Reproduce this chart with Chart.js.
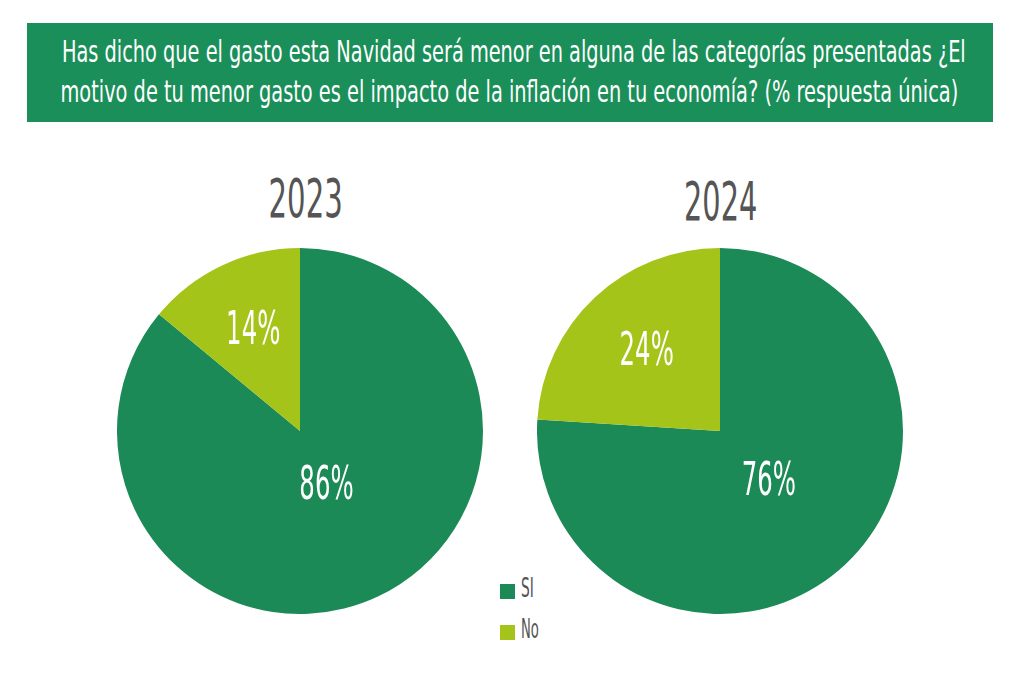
<!DOCTYPE html>
<html>
<head>
<meta charset="utf-8">
<script src="https://cdn.jsdelivr.net/npm/chart.js@4.4.0/dist/chart.umd.min.js"></script>
<style>
  body { margin: 0; background: #fff; width: 1024px; height: 682px; position: relative; overflow: hidden; font-family: "DejaVu Sans Condensed", sans-serif; }
  #banner { position: absolute; left: 27px; top: 23px; width: 966px; height: 99px; background: #1b8f5a; }
  .txt { position: absolute; white-space: nowrap; line-height: 1; }
  .box { position: absolute; width: 366px; height: 366px; top: 248px; }
  .sq { position: absolute; left: 500px; width: 15px; height: 15px; }
</style>
</head>
<body>
<div id="banner"></div>
<div class="box" style="left:117px"><canvas id="pie2023"></canvas></div>
<div class="box" style="left:537px"><canvas id="pie2024"></canvas></div>
<script>
// datos
const categories = ['SI', 'No'];
const years = ['2023', '2024'];
const values2023 = [86, 14];
const values2024 = [76, 24];
const colors = ['#1b8a56', '#a5c41a'];
const titleLines = [
    'Has dicho que el gasto esta Navidad será menor en alguna de las categorías presentadas ¿El',
    'motivo de tu menor gasto es el impacto de la inflación en tu economía? (% respuesta única)'
];

// texto estrecho: se escala en x hasta el ancho buscado
function addText(text, x, top, size, color, width, align) {
    const el = document.createElement('div');
    el.className = 'txt';
    el.textContent = text;
    el.style.fontSize = size + 'px';
    el.style.color = color;
    el.style.top = top + 'px';
    document.body.appendChild(el);
    const w = el.offsetWidth;
    const s = width / w;
    if (align === 'center') {
        el.style.left = (x - w / 2) + 'px';
        el.style.transformOrigin = 'center';
    } else {
        el.style.left = x + 'px';
        el.style.transformOrigin = 'left';
    }
    el.style.transform = 'scaleX(' + s + ')';
}

addText(titleLines[0], 514, 36, 31, '#fff', 904, 'center');
addText(titleLines[1], 509, 76, 31, '#fff', 898, 'center');
addText(years[0], 305, 172, 53, '#555', 74, 'center');
addText(years[1], 720, 175, 53, '#555', 73, 'center');

// etiquetas de porcentaje dentro de cada porcion
const pctLabels = {
    id: 'pctLabels',
    afterDatasetsDraw(chart, args, opts) {
        const ctx = chart.ctx;
        const meta = chart.getDatasetMeta(0);
        meta.data.forEach(function (arc, i) {
            const mid = (arc.startAngle + arc.endAngle) / 2;
            const r = arc.outerRadius * opts.offsets[i];
            const x = arc.x + Math.cos(mid) * r;
            const y = arc.y + Math.sin(mid) * r;
            ctx.save();
            ctx.translate(x, y);
            ctx.scale(0.59, 1);
            ctx.fillStyle = '#fff';
            ctx.font = '46px "DejaVu Sans Condensed", sans-serif';
            ctx.textAlign = 'center';
            ctx.textBaseline = 'middle';
            ctx.fillText(chart.data.datasets[0].data[i] + '%', 0, 0);
            ctx.restore();
        });
    }
};

function makePie(id, values, offsets) {
    return new Chart(document.getElementById(id), {
        type: 'pie',
        data: {
            labels: categories,
            datasets: [{
                data: values,
                backgroundColor: colors,
                borderWidth: 0
            }]
        },
        options: {
            responsive: true,
            maintainAspectRatio: false,
            animation: false,
            layout: { padding: 0 },
            plugins: {
                legend: { display: false },
                tooltip: { enabled: false },
                pctLabels: { offsets: offsets }
            }
        },
        plugins: [pctLabels]
    });
}

makePie('pie2023', values2023, [0.34, 0.6]);
makePie('pie2024', values2024, [0.39, 0.585]);

// leyenda
categories.forEach(function (cat, i) {
    const sq = document.createElement('div');
    sq.className = 'sq';
    sq.style.top = (584 + i * 41) + 'px';
    sq.style.background = colors[i];
    document.body.appendChild(sq);
    addText(cat, 521, 575 + i * 41, 26, '#555', i === 0 ? 13 : 18, 'left');
});
</script>
</body>
</html>
